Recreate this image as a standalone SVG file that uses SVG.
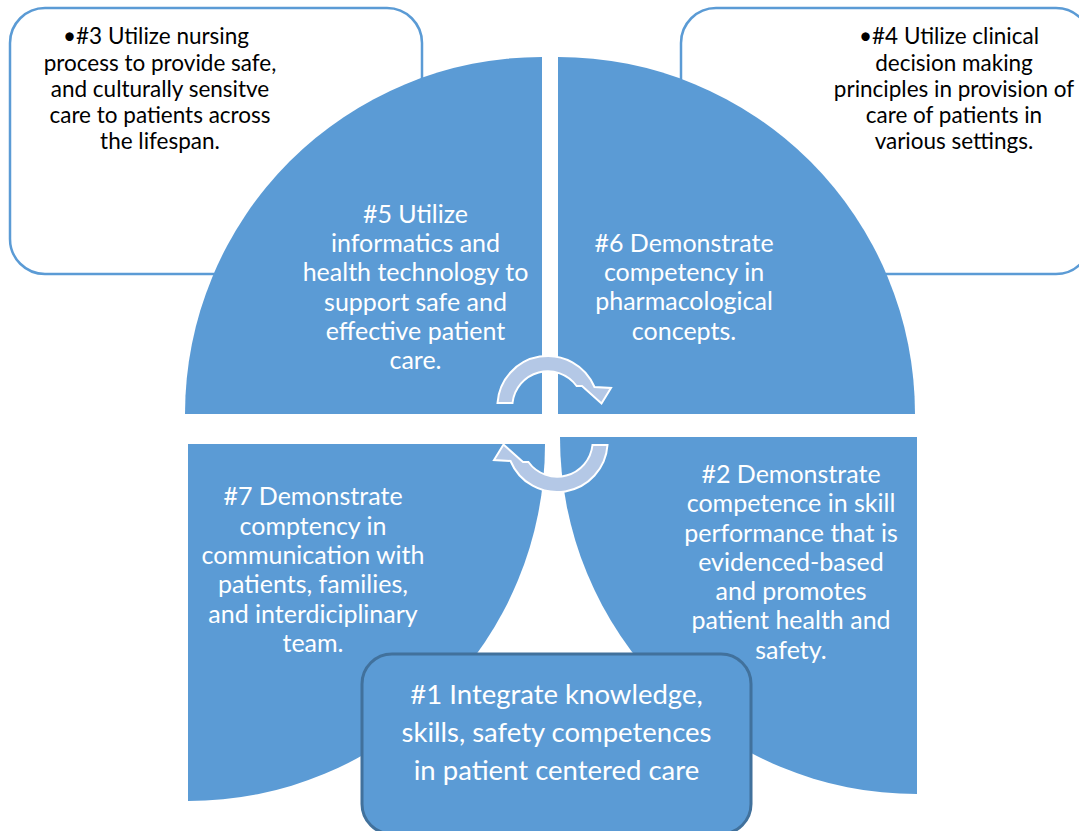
<svg xmlns="http://www.w3.org/2000/svg" width="1079" height="831" viewBox="0 0 1079 831">
<style>
.box{fill:#ffffff;stroke:#5B9BD5;stroke-width:2.5}
.q{fill:#5B9BD5}
.core{fill:#5B9BD5;stroke:#41719C;stroke-width:3}
.arr{fill:#B4C8E6;stroke:#ffffff;stroke-width:2;stroke-linejoin:miter}
text{font-family:Lato,"Liberation Sans",sans-serif;text-anchor:middle}
.tb{font-size:22.5px;fill:#000000}
.tq{font-size:25px;fill:#ffffff}
.tc{font-size:27.5px;fill:#ffffff}
</style>
<rect width="1079" height="831" fill="#ffffff"/>
<g id="node3">
<rect class="box" x="10" y="8" width="412" height="266" rx="35" ry="35"/>
<text class="tb"><tspan x="156" y="44">•#3 Utilize nursing</tspan><tspan x="160" y="70.5">process to provide safe,</tspan><tspan x="160" y="97">and culturally sensitve</tspan><tspan x="160" y="123">care to patients across</tspan><tspan x="160" y="149">the lifespan.</tspan></text>
</g>
<g id="node4">
<rect class="box" x="681" y="8" width="410" height="266" rx="35" ry="35"/>
<text class="tb"><tspan x="949" y="44">•#4 Utilize clinical</tspan><tspan x="954" y="70.5">decision making</tspan><tspan x="954" y="97">principles in provision of</tspan><tspan x="954" y="123">care of patients in</tspan><tspan x="954" y="149">various settings.</tspan></text>
</g>
<g id="node5">
<path class="q" d="M542 414 L185 414 A357 357 0 0 1 542 57 Z"/>
<text class="tq"><tspan x="415.5" y="222.5">#5 Utilize</tspan><tspan x="415.5" y="252">informatics and</tspan><tspan x="415.5" y="281">health technology to</tspan><tspan x="415.5" y="310.5">support safe and</tspan><tspan x="415.5" y="339.5">effective patient</tspan><tspan x="415.5" y="369">care.</tspan></text>
</g>
<g id="node6">
<path class="q" d="M558 414 L558 57 A357 357 0 0 1 915 414 Z"/>
<text class="tq"><tspan x="684" y="251.5">#6 Demonstrate</tspan><tspan x="684" y="281">competency in</tspan><tspan x="684" y="310">pharmacological</tspan><tspan x="684" y="339.5">concepts.</tspan></text>
</g>
<g id="node7">
<path class="q" d="M188 444 L545 444 A357 357 0 0 1 188 801 Z"/>
<text class="tq"><tspan x="313" y="505">#7 Demonstrate</tspan><tspan x="313" y="534.5">comptency in</tspan><tspan x="313" y="564">communication with</tspan><tspan x="313" y="593">patients, families,</tspan><tspan x="313" y="622.5">and interdiciplinary</tspan><tspan x="313" y="652">team.</tspan></text>
</g>
<g id="node2">
<path class="q" d="M917 437 L917 794 A357 357 0 0 1 560 437 Z"/>
<text class="tq"><tspan x="791" y="483">#2 Demonstrate</tspan><tspan x="791" y="512">competence in skill</tspan><tspan x="791" y="541.5">performance that is</tspan><tspan x="791" y="570.5">evidenced-based</tspan><tspan x="791" y="600">and promotes</tspan><tspan x="791" y="629">patient health and</tspan><tspan x="791" y="658.5">safety.</tspan></text>
</g>
<g id="connectors">
<path id="arrow-top" class="arr" d="M497.5 403 A50.5 50.5 0 0 1 594.5 387 L611 388 L601.5 403.5 L582 386 L576.6 386 A35.5 35.5 0 0 0 512.5 403 Z"/>
<path id="arrow-bottom" class="arr" transform="rotate(180 552.5 424)" d="M497.5 403 A50.5 50.5 0 0 1 594.5 387 L611 388 L601.5 403.5 L582 386 L576.6 386 A35.5 35.5 0 0 0 512.5 403 Z"/>
</g>
<g id="node1">
<rect class="core" x="362" y="654" width="389" height="180" rx="30" ry="30"/>
<text class="tc"><tspan x="556.5" y="703.5">#1 Integrate knowledge,</tspan><tspan x="556.5" y="742">skills, safety competences</tspan><tspan x="556.5" y="780">in patient centered care</tspan></text>
</g>
</svg>
